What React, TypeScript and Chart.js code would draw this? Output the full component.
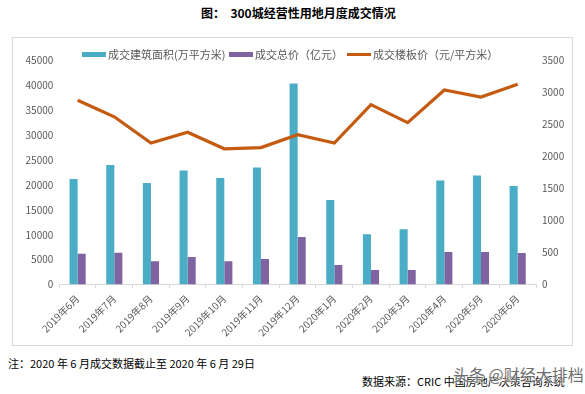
import React, { useEffect, useRef } from "react";
import { Chart, registerables } from "chart.js";

Chart.register(...registerables);

const months = [
  "2019年6月", "2019年7月", "2019年8月", "2019年9月", "2019年10月", "2019年11月", "2019年12月",
  "2020年1月", "2020年2月", "2020年3月", "2020年4月", "2020年5月", "2020年6月",
];
const areaValues = [21200, 24000, 20400, 22900, 21400, 23500, 40400, 17000, 10100, 11100, 20900, 21900, 19800];
const totalValues = [481, 497, 362, 430, 362, 398, 742, 305, 227, 227, 508, 508, 492];
const priceValues = [2880, 2620, 2210, 2380, 2120, 2140, 2340, 2210, 2810, 2530, 3040, 2930, 3130];

const leftMax = 45000;
const leftStep = 5000;
const rightMax = 3500;
const rightStep = 500;

const seriesNames = ["成交建筑面积(万平方米)", "成交总价（亿元）", "成交楼板价（元/平方米）"];
const seriesColors = ["#4BACC6", "#8064A2", "#C55A11"];

const FONT = "'Noto Sans CJK SC', 'Noto Sans', sans-serif";
const TEXT = "#595959";

export default function App() {
  const ref = useRef<HTMLCanvasElement | null>(null);

  useEffect(() => {
    if (!ref.current) return;
    const chart = new Chart(ref.current, {
      type: "bar",
      data: {
        labels: months,
        datasets: [
          {
            type: "bar",
            label: seriesNames[0],
            data: areaValues,
            yAxisID: "y",
            backgroundColor: seriesColors[0],
            categoryPercentage: 0.44,
            barPercentage: 1,
            order: 1,
          },
          {
            type: "bar",
            label: seriesNames[1],
            data: totalValues,
            yAxisID: "y1",
            backgroundColor: seriesColors[1],
            categoryPercentage: 0.44,
            barPercentage: 1,
            order: 1,
          },
          {
            type: "line",
            label: seriesNames[2],
            data: priceValues,
            yAxisID: "y1",
            borderColor: seriesColors[2],
            backgroundColor: seriesColors[2],
            borderWidth: 3.2,
            pointRadius: 0,
            tension: 0,
            order: 0,
          } as any,
        ],
      },
      options: {
        responsive: false,
        animation: false,
        layout: { padding: { top: 23.5, left: 0, right: 0, bottom: 0 } },
        plugins: {
          legend: { display: false },
          tooltip: { enabled: false },
        },
        scales: {
          x: {
            offset: true,
            grid: {
              display: true,
              drawOnChartArea: false,
              drawTicks: true,
              tickLength: 4,
              color: "#d9d9d9",
              offset: true,
            },
            border: { display: true, color: "#d9d9d9" },
            ticks: {
              autoSkip: false,
              minRotation: 45,
              maxRotation: 45,
              padding: 4,
              color: TEXT,
              font: { family: FONT, size: 10 },
            },
            afterFit: (s: any) => {
              s.height = 60.5;
            },
          },
          y: {
            position: "left",
            min: 0,
            max: leftMax,
            ticks: {
              stepSize: leftStep,
              padding: 6,
              color: TEXT,
              font: { family: FONT, size: 10 },
              callback: (v: any) => String(v),
            },
            grid: { display: false, drawTicks: false },
            border: { display: false },
            afterFit: (s: any) => {
              s.width = 47.3;
            },
          },
          y1: {
            position: "right",
            min: 0,
            max: rightMax,
            ticks: {
              stepSize: rightStep,
              padding: 6,
              color: TEXT,
              font: { family: FONT, size: 10 },
              callback: (v: any) => String(v),
            },
            grid: { display: false, drawTicks: false },
            border: { display: false },
            afterFit: (s: any) => {
              s.width = 36;
            },
          },
        },
      },
    });
    return () => chart.destroy();
  }, []);

  const legendPos = [
    { box: 82, text: 108 },
    { box: 229, text: 255 },
    { box: 347, text: 373 },
  ];

  return (
    <div
      style={{
        position: "absolute",
        left: 0,
        top: 0,
        width: 585,
        height: 394,
        background: "#fff",
        fontFamily: FONT,
        overflow: "hidden",
      }}
    >
      <div
        style={{
          position: "absolute",
          left: 201,
          top: 4,
          fontSize: 12,
          fontWeight: "bold",
          color: "#000",
          whiteSpace: "pre",
          lineHeight: "18px",
        }}
      >
        {"图：  300城经营性用地月度成交情况"}
      </div>
      <div
        style={{
          position: "absolute",
          left: 12,
          top: 37,
          width: 561,
          height: 309,
          border: "1px solid #d9d9d9",
          boxSizing: "border-box",
        }}
      />
      <canvas
        ref={ref}
        width={560}
        height={308}
        style={{ position: "absolute", left: 12, top: 37, width: 560, height: 308 }}
      />
      {legendPos.map((p, i) => (
        <React.Fragment key={i}>
          <div
            style={{
              position: "absolute",
              left: p.box,
              top: i === 2 ? 53 : 52,
              width: 24,
              height: i === 2 ? 3 : 5,
              background: seriesColors[i],
            }}
          />
          <div
            style={{
              position: "absolute",
              left: p.text,
              top: 46,
              fontSize: 11,
              lineHeight: "16px",
              color: TEXT,
              whiteSpace: "nowrap",
            }}
          >
            {seriesNames[i]}
          </div>
        </React.Fragment>
      ))}
      <div
        style={{
          position: "absolute",
          left: 8,
          top: 355,
          fontSize: 11,
          lineHeight: "16px",
          color: "#000",
          whiteSpace: "pre",
        }}
      >
        {"注：2020 年 6 月成交数据截止至 2020 年 6 月 29日"}
      </div>
      <div
        style={{
          position: "absolute",
          left: 362,
          top: 373,
          fontSize: 11,
          lineHeight: "16px",
          color: "#000",
          whiteSpace: "pre",
        }}
      >
        {"数据来源：CRIC 中国房地产决策咨询系统"}
      </div>
      <div
        style={{
          position: "absolute",
          left: 453,
          top: 363,
          fontSize: 16,
          lineHeight: "22px",
          color: "rgba(70,70,70,0.8)",
          whiteSpace: "pre",
          textShadow: "0 0 2px #fff, 0 0 2px #fff",
        }}
      >
        {"头条 @财经大排档"}
      </div>
    </div>
  );
}
